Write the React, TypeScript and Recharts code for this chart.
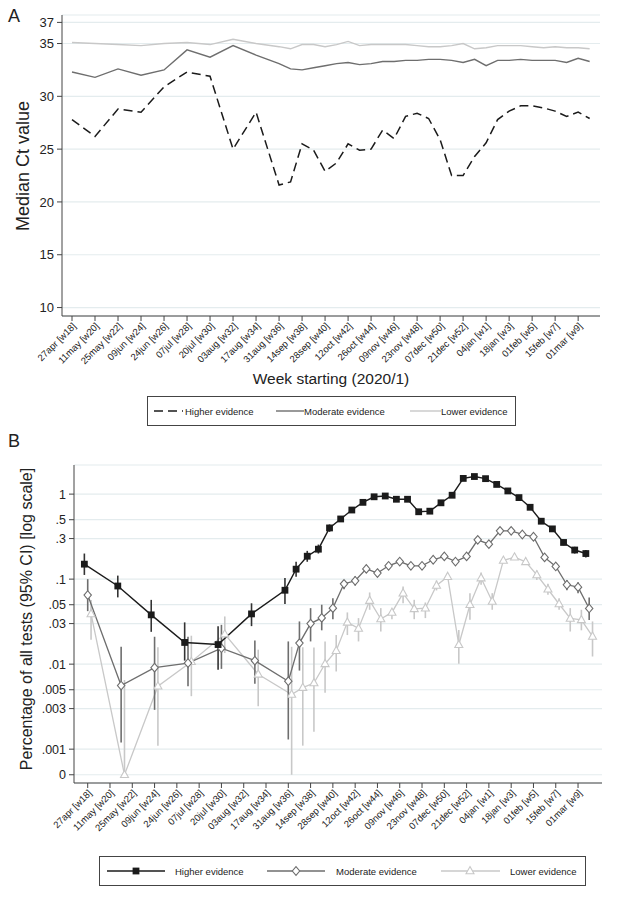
import React from 'react';
import { ComposedChart, Line, XAxis, YAxis, CartesianGrid, ErrorBar } from 'recharts';

// tick labels every two weeks, week 0 = 27apr 2020
const weekLabels = [
  '27apr [w18]', '11may [w20]', '25may [w22]', '09jun [w24]', '24jun [w26]', '07jul [w28]',
  '20jul [w30]', '03aug [w32]', '17aug [w34]', '31aug [w36]', '14sep [w38]', '28sep [w40]',
  '12oct [w42]', '26oct [w44]', '09nov [w46]', '23nov [w48]', '07dec [w50]', '21dec [w52]',
  '04jan [w1]', '18jan [w3]', '01feb [w5]', '15feb [w7]', '01mar [w9]',
];
const labelWeeks = [0, 2, 4, 6, 8, 10, 12, 14, 16, 18, 20, 22, 24, 26, 28, 30, 32, 34, 36, 38, 40, 42, 44];

// panel A: median Ct value
const weeksA = [0, 2, 4, 6, 8, 10, 12, 14, 16, 18, 19, 20, 21, 22, 23, 24, 25, 26, 27, 28, 29, 30, 31, 32, 33, 34, 35, 36, 37, 38, 39, 40, 41, 42, 43, 44, 45];
const higherCt = [27.8, 26.2, 28.8, 28.5, 30.9, 32.3, 31.9, 25.0, 28.5, 21.6, 21.9, 25.5, 24.9, 22.9, 23.7, 25.5, 24.9, 25.0, 26.8, 26.0, 28.1, 28.4, 27.9, 25.9, 22.5, 22.5, 24.3, 25.6, 27.8, 28.6, 29.1, 29.1, 28.9, 28.6, 28.1, 28.5, 27.9];
const moderateCt = [32.3, 31.8, 32.6, 32.0, 32.5, 34.4, 33.7, 34.8, 33.9, 33.1, 32.6, 32.5, 32.7, 32.9, 33.1, 33.2, 33.0, 33.1, 33.3, 33.3, 33.4, 33.4, 33.5, 33.5, 33.4, 33.2, 33.5, 32.9, 33.4, 33.4, 33.5, 33.4, 33.4, 33.4, 33.2, 33.6, 33.3];
const lowerCt = [35.1, 35.0, 34.9, 34.8, 35.0, 35.1, 34.9, 35.4, 35.0, 34.7, 34.5, 34.9, 34.9, 34.7, 34.9, 35.2, 34.8, 34.9, 34.9, 34.9, 34.9, 34.8, 34.7, 34.7, 34.8, 35.0, 34.5, 34.6, 34.8, 34.8, 34.8, 34.7, 34.6, 34.7, 34.6, 34.6, 34.5];
const ctTicks = [10, 15, 20, 25, 30, 35, 37];

// panel B: percentage of all tests with 95% CI
const weeksB = [0, 3, 6, 9, 12, 15, 18, 19, 20, 21, 22, 23, 24, 25, 26, 27, 28, 29, 30, 31, 32, 33, 34, 35, 36, 37, 38, 39, 40, 41, 42, 43, 44, 45];
const higherPct = [0.15, 0.083, 0.038, 0.018, 0.017, 0.039, 0.074, 0.131, 0.186, 0.225, 0.40, 0.51, 0.65, 0.80, 0.93, 0.95, 0.87, 0.87, 0.62, 0.63, 0.79, 0.97, 1.53, 1.61, 1.52, 1.30, 1.09, 0.91, 0.70, 0.48, 0.39, 0.27, 0.22, 0.20];
const higherLo = [0.112, 0.061, 0.024, 0.011, 0.0086, 0.028, 0.051, 0.107, 0.16, 0.20, 0.36, 0.47, 0.61, 0.75, 0.88, 0.90, 0.82, 0.82, 0.58, 0.59, 0.75, 0.92, 1.46, 1.54, 1.45, 1.24, 1.03, 0.86, 0.66, 0.45, 0.36, 0.25, 0.20, 0.18];
const higherHi = [0.20, 0.11, 0.057, 0.031, 0.028, 0.052, 0.103, 0.16, 0.215, 0.255, 0.44, 0.55, 0.70, 0.85, 0.98, 1.0, 0.92, 0.92, 0.66, 0.67, 0.84, 1.02, 1.60, 1.68, 1.59, 1.36, 1.15, 0.96, 0.74, 0.51, 0.42, 0.29, 0.24, 0.22];
const moderatePct = [0.065, 0.0056, 0.0091, 0.0103, 0.0154, 0.011, 0.0063, 0.0177, 0.030, 0.035, 0.0456, 0.088, 0.0956, 0.132, 0.118, 0.1435, 0.161, 0.1435, 0.1435, 0.169, 0.185, 0.161, 0.185, 0.29, 0.258, 0.37, 0.37, 0.335, 0.315, 0.18, 0.141, 0.0858, 0.0805, 0.0452];
const moderateLo = [0.042, 0.0012, 0.0029, 0.0055, 0.0088, 0.0059, 0.0013, 0.0084, 0.0185, 0.025, 0.0338, 0.076, 0.084, 0.12, 0.106, 0.13, 0.147, 0.13, 0.13, 0.155, 0.17, 0.147, 0.17, 0.27, 0.24, 0.345, 0.345, 0.31, 0.29, 0.165, 0.128, 0.074, 0.068, 0.033];
const moderateHi = [0.10, 0.016, 0.021, 0.021, 0.029, 0.019, 0.0185, 0.0318, 0.0456, 0.05, 0.0597, 0.098, 0.108, 0.147, 0.13, 0.158, 0.176, 0.158, 0.158, 0.184, 0.20, 0.176, 0.20, 0.31, 0.28, 0.395, 0.395, 0.36, 0.34, 0.196, 0.155, 0.098, 0.092, 0.061];
const lowerPct = [0.039, 0, 0.0055, 0.0107, 0.0226, 0.0076, 0.0044, 0.0053, 0.006, 0.0101, 0.0144, 0.031, 0.0263, 0.056, 0.034, 0.0406, 0.0684, 0.0448, 0.0455, 0.0842, 0.107, 0.0169, 0.05, 0.103, 0.0546, 0.166, 0.181, 0.16, 0.112, 0.076, 0.051, 0.0345, 0.0332, 0.0212];
const lowerLo = [0.0194, 0, 0.0011, 0.0042, 0.0135, 0.0032, 0, 0.0011, 0.0016, 0.0046, 0.0082, 0.022, 0.0185, 0.0436, 0.0242, 0.0338, 0.0522, 0.0338, 0.0348, 0.0736, 0.098, 0.0101, 0.0332, 0.0858, 0.0436, 0.154, 0.1687, 0.1475, 0.098, 0.0654, 0.0436, 0.0242, 0.025, 0.0123];
const lowerHi = [0.057, 0.0065, 0.0158, 0.0216, 0.0364, 0.0148, 0.016, 0.0158, 0.0157, 0.0185, 0.022, 0.0406, 0.0348, 0.0697, 0.0456, 0.0436, 0.082, 0.0571, 0.0531, 0.0965, 0.1177, 0.0253, 0.0684, 0.1198, 0.0684, 0.1766, 0.193, 0.172, 0.1265, 0.088, 0.0597, 0.0456, 0.0436, 0.0318];
const pctTicks = [0.0005, 0.001, 0.003, 0.005, 0.01, 0.03, 0.05, 0.1, 0.3, 0.5, 1];
const pctTickLabels = ['0', '.001', '.003', '.005', '.01', '.03', '.05', '.1', '.3', '.5', '1'];

const FONT = '"Liberation Sans", Arial, sans-serif';
const HIGH = '#1b1b1b';
const MOD = '#6e6e6e';
const LOW = '#c8c8c8';
const GRID = '#e4ecee';
const AXIS = '#444';
const ZERO = 0.0005; // "0" is drawn at this level on the log axis

const rowsA = weeksA.map((w, i) => ({ week: w, higher: higherCt[i], moderate: moderateCt[i], lower: lowerCt[i] }));

const buildB = (vals: number[], lo: number[], hi: number[], shift: number) =>
  weeksB.map((w, i) => {
    const y = Math.max(vals[i], ZERO);
    const l = Math.max(lo[i], ZERO);
    return { x: w + shift, y, err: [y - l, hi[i] - y] };
  });

const rowsHigher = buildB(higherPct, higherLo, higherHi, -0.3);
const rowsModerate = buildB(moderatePct, moderateLo, moderateHi, 0);
const rowsLower = buildB(lowerPct, lowerLo, lowerHi, 0.3);

const weekLabel = (v: number) => weekLabels[labelWeeks.indexOf(v)] ?? '';

const SlantTick = (props: any) => {
  const { x, y, payload } = props;
  return (
    <g transform={`translate(${x},${y})`}>
      <text x={0} y={0} dy="0.7em" textAnchor="end" transform="rotate(-45)" fontSize={9.5} fill="#222" fontFamily={FONT}>
        {weekLabel(payload.value)}
      </text>
    </g>
  );
};

const SquareDot = (props: any) => {
  const { cx, cy } = props;
  if (cx == null || cy == null) return null;
  return <rect x={cx - 3.4} y={cy - 3.4} width={6.8} height={6.8} fill={HIGH} />;
};

const DiamondDot = (props: any) => {
  const { cx, cy } = props;
  if (cx == null || cy == null) return null;
  return <path d={`M${cx},${cy - 4.3}L${cx + 3.7},${cy}L${cx},${cy + 4.3}L${cx - 3.7},${cy}Z`} fill="#fff" stroke={MOD} strokeWidth={1.1} />;
};

const TriangleDot = (props: any) => {
  const { cx, cy } = props;
  if (cx == null || cy == null) return null;
  return <path d={`M${cx},${cy - 4.4}L${cx + 4},${cy + 2.8}L${cx - 4},${cy + 2.8}Z`} fill="#fff" stroke={LOW} strokeWidth={1.1} />;
};

const PanelA = () => (
  <ComposedChart width={617} height={400} data={rowsA} margin={{ top: 15, right: 17, bottom: 0, left: 0 }}>
    <CartesianGrid vertical={false} stroke={GRID} strokeWidth={1.2} />
    <XAxis
      type="number" dataKey="week" domain={[-0.87, 45.9]} allowDataOverflow ticks={labelWeeks} interval={0}
      tick={<SlantTick />} height={84} stroke={AXIS} tickSize={5} tickMargin={1}
    />
    <YAxis
      type="number" domain={[9.2, 37.7]} allowDataOverflow ticks={ctTicks} interval={0} width={62}
      stroke={AXIS} tickSize={5} tickMargin={3} tick={{ fontSize: 13, fill: '#222', fontFamily: FONT }}
    />
    <Line dataKey="lower" stroke={LOW} strokeWidth={1.4} dot={false} isAnimationActive={false} />
    <Line dataKey="moderate" stroke={MOD} strokeWidth={1.4} dot={false} isAnimationActive={false} />
    <Line dataKey="higher" stroke={HIGH} strokeWidth={1.5} strokeDasharray="9 5" dot={false} isAnimationActive={false} />
  </ComposedChart>
);

const PanelB = () => (
  <ComposedChart width={617} height={420} margin={{ top: 25, right: 15, bottom: 0, left: 0 }}>
    <CartesianGrid vertical={false} stroke={GRID} strokeWidth={1.2} />
    <XAxis
      type="number" dataKey="x" domain={[-1.23, 46.15]} allowDataOverflow ticks={labelWeeks} interval={0}
      tick={<SlantTick />} height={77} stroke={AXIS} tickSize={5} tickMargin={1}
    />
    <YAxis
      type="number" scale="log" domain={[0.0004, 2.2]} allowDataOverflow ticks={pctTicks} interval={0} width={74}
      tickFormatter={(v: number) => pctTickLabels[pctTicks.indexOf(v)] ?? ''}
      stroke={AXIS} tickSize={5} tickMargin={3} tick={{ fontSize: 12.5, fill: '#222', fontFamily: FONT }}
    />
    <Line data={rowsLower} dataKey="y" stroke={LOW} strokeWidth={1.3} dot={<TriangleDot />} activeDot={false} isAnimationActive={false}>
      <ErrorBar dataKey="err" direction="y" width={0} stroke={LOW} strokeWidth={1.6} />
    </Line>
    <Line data={rowsModerate} dataKey="y" stroke={MOD} strokeWidth={1.3} dot={<DiamondDot />} activeDot={false} isAnimationActive={false}>
      <ErrorBar dataKey="err" direction="y" width={0} stroke={MOD} strokeWidth={1.6} />
    </Line>
    <Line data={rowsHigher} dataKey="y" stroke={HIGH} strokeWidth={1.4} dot={<SquareDot />} activeDot={false} isAnimationActive={false}>
      <ErrorBar dataKey="err" direction="y" width={0} stroke="#333" strokeWidth={1.6} />
    </Line>
  </ComposedChart>
);

const legendText = { fontSize: 9.5, fill: '#222', fontFamily: FONT } as const;

const LegendA = () => (
  <svg width={369} height={30} style={{ position: 'absolute', left: 147, top: 396 }}>
    <rect x={0.5} y={0.5} width={368} height={29} fill="#fff" stroke={AXIS} strokeWidth={1} />
    <line x1={7} x2={36} y1={15} y2={15} stroke={HIGH} strokeWidth={1.5} strokeDasharray="9 5" />
    <text x={38} y={18.5} {...legendText}>Higher evidence</text>
    <line x1={129} x2={157} y1={15} y2={15} stroke={MOD} strokeWidth={1.4} />
    <text x={157} y={18.5} {...legendText}>Moderate evidence</text>
    <line x1={263} x2={294} y1={15} y2={15} stroke={LOW} strokeWidth={1.4} />
    <text x={294} y={18.5} {...legendText}>Lower evidence</text>
  </svg>
);

const LegendB = () => (
  <svg width={487} height={30} style={{ position: 'absolute', left: 99, top: 856 }}>
    <rect x={0.5} y={0.5} width={486} height={29} fill="#fff" stroke={AXIS} strokeWidth={1} />
    <line x1={8} x2={66} y1={15} y2={15} stroke={HIGH} strokeWidth={1.4} />
    <SquareDot cx={37} cy={15} />
    <text x={76} y={18.5} {...legendText}>Higher evidence</text>
    <line x1={168} x2={226} y1={15} y2={15} stroke={MOD} strokeWidth={1.3} />
    <DiamondDot cx={197} cy={15} />
    <text x={237} y={18.5} {...legendText}>Moderate evidence</text>
    <line x1={342} x2={401} y1={15} y2={15} stroke={LOW} strokeWidth={1.3} />
    <TriangleDot cx={371} cy={15} />
    <text x={411} y={18.5} {...legendText}>Lower evidence</text>
  </svg>
);

const rotated = (cx: number, cy: number, size: number): React.CSSProperties => ({
  position: 'absolute', left: cx, top: cy, transform: 'translate(-50%, -50%) rotate(-90deg)',
  whiteSpace: 'nowrap', fontSize: size, color: '#222', lineHeight: 1,
});

export default function App() {
  return (
    <div style={{ position: 'absolute', left: 0, top: 0, width: 617, height: 898, background: '#fff', fontFamily: FONT, overflow: 'hidden' }}>
      <div style={{ position: 'absolute', left: 0, top: 0 }}>
        <PanelA />
      </div>
      <div style={{ position: 'absolute', left: 0, top: 440 }}>
        <PanelB />
      </div>
      <div style={{ position: 'absolute', left: 8, top: 7, fontSize: 18, color: '#222', lineHeight: 1 }}>A</div>
      <div style={{ position: 'absolute', left: 8, top: 432, fontSize: 18, color: '#222', lineHeight: 1 }}>B</div>
      <div style={rotated(23, 166, 18)}>Median Ct value</div>
      <div style={rotated(27, 619, 16)}>Percentage of all tests (95% CI) [log scale]</div>
      <div style={{ position: 'absolute', left: 331, top: 379, transform: 'translate(-50%, -50%)', fontSize: 15.5, color: '#222', whiteSpace: 'nowrap', lineHeight: 1 }}>
        Week starting (2020/1)
      </div>
      <LegendA />
      <LegendB />
    </div>
  );
}
